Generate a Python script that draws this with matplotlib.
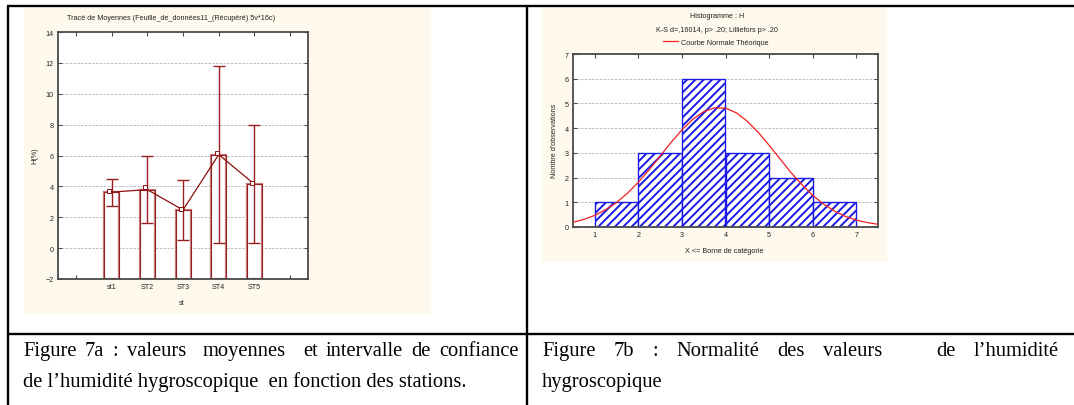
import matplotlib
matplotlib.use('Agg')
import matplotlib.pyplot as plt
from matplotlib.lines import Line2D
from matplotlib.patches import Rectangle

W, H = 1074, 406

# ---------------- data ----------------
stations = ['st1', 'ST2', 'ST3', 'ST4', 'ST5']
h_means = [3.63, 3.79, 2.47, 6.06, 4.14]
h_markers = [3.73, 3.99, 2.54, 6.19, 4.25]
ci_low = [2.76, 1.63, 0.51, 0.34, 0.31]
ci_high = [4.49, 6.00, 4.44, 11.77, 7.99]
left_yticks = [-2, 0, 2, 4, 6, 8, 10, 12, 14]

bin_edges = [1, 2, 3, 4, 5, 6, 7]
bin_counts = [1, 3, 6, 3, 2, 1]
curve_x = [0.5, 0.75, 1.0, 1.25, 1.5, 1.75, 2.0, 2.25, 2.5, 2.75, 3.0, 3.25,
           3.5, 3.75, 4.0, 4.25, 4.5, 4.75, 5.0, 5.25, 5.5, 5.75, 6.0, 6.25,
           6.5, 6.75, 7.0, 7.25, 7.5]
curve_y = [0.19, 0.31, 0.47, 0.70, 0.99, 1.37, 1.81, 2.32, 2.87, 3.42, 3.93,
           4.36, 4.67, 4.82, 4.81, 4.62, 4.28, 3.83, 3.31, 2.76, 2.21, 1.72,
           1.28, 0.93, 0.65, 0.43, 0.28, 0.18, 0.11]
right_xticks = [1, 2, 3, 4, 5, 6, 7]
right_yticks = [0, 1, 2, 3, 4, 5, 6, 7]

caption_a1 = ['Figure', '7a', ':', 'valeurs', 'moyennes', 'et', 'intervalle', 'de', 'confiance']
caption_a1_gaps = [1, 1, 1, 2, 2, 1, 1, 1]
caption_a2 = 'de l\u2019humidit\u00e9 hygroscopique  en fonction des stations.'
caption_b1 = ['Figure', '7b', ':', 'Normalit\u00e9', 'des', 'valeurs', 'de', 'l\u2019humidit\u00e9']
caption_b1_gaps = [1, 1, 1, 1, 1, 3, 1]
caption_b2 = 'hygroscopique'

# ---------------- helpers ----------------
def fx(x):
    return x / W

def fy(y):
    return 1 - y / H

plt.rcParams['font.family'] = ['Liberation Sans', 'DejaVu Sans']
plt.rcParams['hatch.linewidth'] = 1.4

fig = plt.figure(figsize=(W / 100, H / 100), dpi=100)
fig.patch.set_facecolor('white')

cream = '#fef9ec'
fig.add_artist(Rectangle((fx(24), fy(315)), fx(431) - fx(24), fy(9) - fy(315),
                         transform=fig.transFigure, facecolor=cream, edgecolor='none', zorder=0))
fig.add_artist(Rectangle((fx(542), fy(263)), fx(887) - fx(542), fy(9) - fy(263),
                         transform=fig.transFigure, facecolor=cream, edgecolor='none', zorder=0))

spine_col = '#4a4a4a'
small = 5.2

def style_axes(ax):
    for s in ax.spines.values():
        s.set_color(spine_col)
        s.set_linewidth(1.3)
    ax.tick_params(direction='in', top=True, right=True, length=3, width=0.8,
                   color=spine_col, labelsize=small, labelcolor='#222222', pad=3)
    ax.set_facecolor('white')

# ---------------- left chart ----------------
ax1 = fig.add_axes([fx(58), fy(280), fx(308) - fx(58), fy(33) - fy(280)])
style_axes(ax1)
pos = list(range(1, len(stations) + 1))
bot = left_yticks[0]
ax1.bar(pos, [m - bot for m in h_means], bottom=bot, width=0.42,
        facecolor='white', edgecolor='#c07878', linewidth=1.6, zorder=2)
ax1.bar(pos, [m - bot for m in h_means], bottom=bot, width=0.42,
        facecolor='none', edgecolor='#8b1414', linewidth=0.6, zorder=2)
yerr = [[m - lo for m, lo in zip(h_means, ci_low)],
        [hi - m for m, hi in zip(h_means, ci_high)]]
ax1.errorbar(pos, h_means, yerr=yerr, fmt='none', ecolor='#9a2020',
             elinewidth=1.0, capsize=4, capthick=1.0, zorder=3)
ax1.plot(pos, h_means, color='#8b1010', linewidth=0.9, zorder=4)
ax1.plot([p - 0.06 for p in pos], h_markers, linestyle='none', marker='s',
         markersize=2.6, markerfacecolor='white', markeredgecolor='#8b1010',
         markeredgewidth=0.7, zorder=5)
ax1.set_xlim(-0.5, len(stations) + 1.5)
ax1.set_ylim(left_yticks[0], left_yticks[-1])
ax1.set_xticks(range(0, len(stations) + 2))
ax1.set_xticklabels([''] + stations + [''])
ax1.set_yticks(left_yticks)
for v in left_yticks[1:-1]:
    ax1.axhline(v, color='#b4b4b4', linestyle=(0, (3, 1.5)), linewidth=0.6, zorder=1)

fig.text(fx(171), fy(19), 'Trac\u00e9 de Moyennes (Feuille_de_donn\u00e9es11_(R\u00e9cup\u00e9r\u00e9) 5v*16c)',
         ha='center', va='center', fontsize=small, color='#222222')
fig.text(fx(35), fy(156), 'H(%)', ha='center', va='center', rotation=90,
         fontsize=small, color='#222222')
fig.text(fx(182), fy(304), 'st', ha='center', va='center', fontsize=small, color='#222222')

# ---------------- right chart ----------------
ax2 = fig.add_axes([fx(573), fy(228), fx(878) - fx(573), fy(55) - fy(228)])
style_axes(ax2)
ax2.bar(bin_edges[:-1], bin_counts, width=[b - a for a, b in zip(bin_edges[:-1], bin_edges[1:])],
        align='edge', facecolor='white', edgecolor='#1a1ae6', hatch='////',
        linewidth=1.0, zorder=2)
curve, = ax2.plot(curve_x, curve_y, color='#f02020', linewidth=0.9, zorder=3,
                  label='Courbe Normale Th\u00e9orique')
ax2.set_xlim(0.5, 7.5)
ax2.set_ylim(0, 7)
ax2.set_xticks(right_xticks)
ax2.set_yticks(right_yticks)
for v in right_yticks[1:-1]:
    ax2.axhline(v, color='#b4b4b4', linestyle=(0, (3, 1.5)), linewidth=0.6, zorder=1)

fig.text(fx(717), fy(17), 'Histogramme : H', ha='center', va='center',
         fontsize=small, color='#222222')
fig.text(fx(717), fy(31), 'K-S d=,16014, p> .20; Lilliefors p> .20', ha='center',
         va='center', fontsize=small, color='#222222')
ax2.legend(handles=[curve], loc='center', bbox_to_anchor=(fx(716), fy(43)),
           bbox_transform=fig.transFigure, frameon=False, fontsize=small,
           handlelength=2.0, handletextpad=0.5, borderpad=0, labelcolor='#222222')
fig.text(fx(554), fy(141), 'Nombre d\'observations', ha='center', va='center',
         rotation=90, fontsize=small, color='#222222')
fig.text(fx(724), fy(252), 'X <= Borne de cat\u00e9gorie', ha='center', va='center',
         fontsize=small, color='#222222')

# ---------------- table lines ----------------
lw = 1.7
for (x0, y0, x1, y1) in [(7, 7, 1074, 7), (8, 7, 8, 406), (527, 7, 527, 406), (8, 335, 1074, 335)]:
    fig.add_artist(Line2D([fx(x0), fx(x1)], [fy(y0), fy(y1)], transform=fig.transFigure,
                          color='black', linewidth=lw, solid_capstyle='butt'))

# ---------------- captions ----------------
cap_kw = dict(fontsize=14.8, family=['Liberation Serif', 'DejaVu Serif'], color='black', va='baseline')
renderer = fig.canvas.get_renderer()

def justify(words, gaps, x0, x1, y):
    texts = [fig.text(0, fy(y), w, **cap_kw) for w in words]
    widths = [t.get_window_extent(renderer).width for t in texts]
    unit = ((x1 - x0) - sum(widths)) / sum(gaps)
    x = x0
    for t, w, g in zip(texts, widths, gaps + [0]):
        t.set_x(fx(x))
        x += w + g * unit

justify(caption_a1, caption_a1_gaps, 23, 519, 356)
fig.text(fx(23), fy(387), caption_a2, **cap_kw)
justify(caption_b1, caption_b1_gaps, 542, 1059, 356)
fig.text(fx(542), fy(387), caption_b2, **cap_kw)

fig.savefig('out.png', dpi=100)
